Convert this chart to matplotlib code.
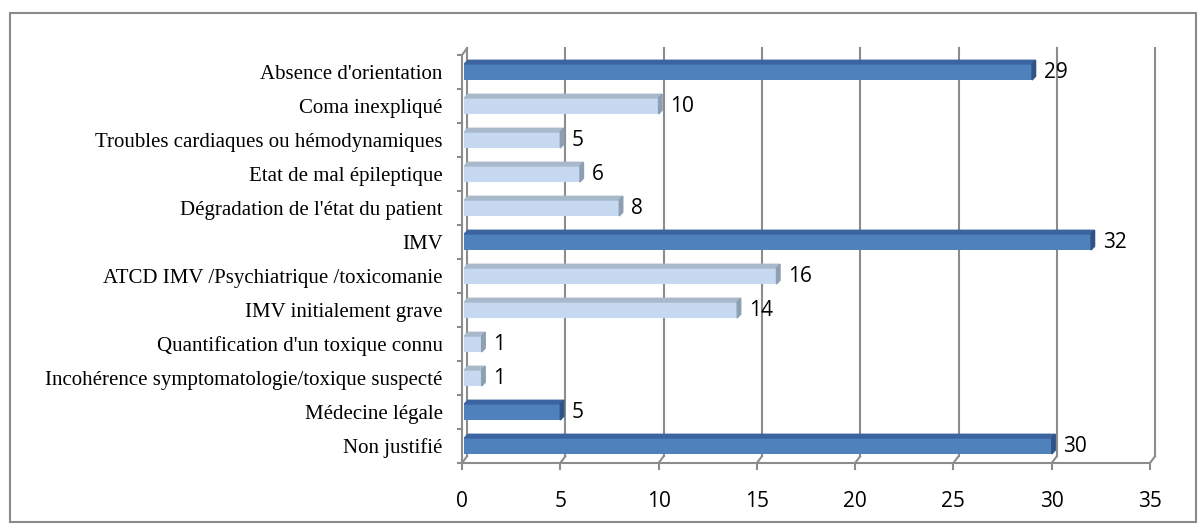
import matplotlib.pyplot as plt
from matplotlib.patches import Polygon, Rectangle

categories = ["Absence d'orientation", "Coma inexpliqué",
              "Troubles cardiaques ou hémodynamiques", "Etat de mal épileptique",
              "Dégradation de l'état du patient", "IMV",
              "ATCD IMV /Psychiatrique /toxicomanie", "IMV initialement grave",
              "Quantification d'un toxique connu",
              "Incohérence symptomatologie/toxique suspecté",
              "Médecine légale", "Non justifié"]
values = [29, 10, 5, 6, 8, 32, 16, 14, 1, 1, 5, 30]
is_main = [True, False, False, False, False, True, False, False, False, False, True, True]
xticks = [0, 5, 10, 15, 20, 25, 30, 35]

num_font = ['Liberation Sans Narrow', 'Open Sans', 'DejaVu Sans']

fig = plt.figure(figsize=(12.03, 5.28), dpi=100)
ax = fig.add_axes([462 / 1203, 1 - 463 / 528, (1150 - 462) / 1203, (463 - 55) / 528])

# outer chart border
fig.patches.append(Rectangle((10 / 1203, 6 / 528), 1186 / 1203, 509 / 528,
                             transform=fig.transFigure, fill=False,
                             edgecolor='#8a8a8a', linewidth=1.5))

n = len(categories)
ypos = list(range(n - 1, -1, -1))
ymin, ymax = -0.5, n - 0.5
ax.set_xlim(0, 35)
ax.set_ylim(ymin, ymax)

# 3D wall offsets (data units)
wdx, wdy = 0.26, 0.2
grid_c = '#8c8c8c'
for x in xticks:
    ax.plot([x + wdx, x + wdx], [ymin + wdy, ymax + wdy], color=grid_c, lw=1.5,
            clip_on=False, zorder=1)
    ax.plot([x, x + wdx], [ymin, ymin + wdy], color=grid_c, lw=1.5, clip_on=False, zorder=1)
    ax.plot([x, x], [ymin, ymin - 0.18], color=grid_c, lw=1.5, clip_on=False, zorder=1)
# front left axis and floor edge
ax.plot([0, 0], [ymin, ymax], color=grid_c, lw=1.5, clip_on=False, zorder=1)
ax.plot([0, wdx], [ymax, ymax + wdy], color=grid_c, lw=1.5, clip_on=False, zorder=1)
ax.plot([0, 35], [ymin, ymin], color=grid_c, lw=1.5, clip_on=False, zorder=1)
for k in range(n + 1):
    yb = ymin + k
    ax.plot([0, -0.2], [yb, yb], color=grid_c, lw=1.5, clip_on=False, zorder=1)

# bars with a thin 3D top and side face
h = 0.47
x0 = 0.12
bdx, bdy = 0.18, 0.11
for y, v, main in zip(ypos, values, is_main):
    front = '#4f81bd' if main else '#c6d9f1'
    top = '#3b64a0' if main else '#a9b9cc'
    side = '#2f5487' if main else '#8e9fb4'
    ax.barh(y, v - x0, left=x0, height=h, color=front, zorder=3)
    ax.add_patch(Polygon([(x0, y + h / 2), (v, y + h / 2), (v + bdx, y + h / 2 + bdy),
                          (x0 + bdx, y + h / 2 + bdy)], closed=True, color=top, zorder=3))
    ax.add_patch(Polygon([(v, y - h / 2), (v, y + h / 2), (v + bdx, y + h / 2 + bdy),
                          (v + bdx, y - h / 2 + bdy)], closed=True, color=side, zorder=3))
    ax.text(v + 0.6, y, str(v), va='center', ha='left', fontsize=15,
            family=num_font, zorder=4)

for sp in ax.spines.values():
    sp.set_visible(False)
ax.set_yticks(ypos)
ax.set_yticklabels(categories, family='Liberation Serif', fontsize=15)
ax.set_xticks(xticks)
ax.set_xticklabels([str(t) for t in xticks], family=num_font, fontsize=15)
ax.tick_params(axis='both', length=0)
ax.tick_params(axis='y', pad=14)
ax.tick_params(axis='x', pad=20)

fig.savefig('out.png', dpi=100)
